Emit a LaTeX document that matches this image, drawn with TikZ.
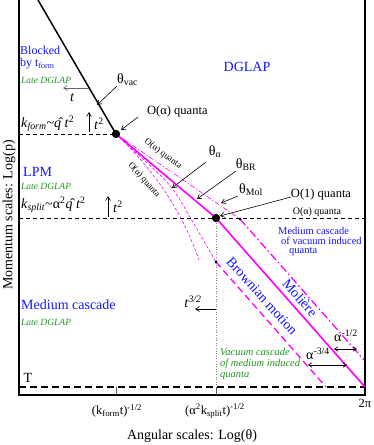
\documentclass[tikz,border=0pt]{standalone}
\usepackage{fontspec}
\setmainfont{Liberation Serif}
\usetikzlibrary{arrows.meta}
\definecolor{mag}{RGB}{255,0,255}
\definecolor{lblue}{RGB}{20,20,255}
\definecolor{lgreen}{RGB}{30,150,30}
\begin{document}
\begin{tikzpicture}[x=1pt,y=-1pt,
  axis/.style={line width=1.6pt},
  arr/.style={-{Straight Barb[length=4pt,width=5pt]}, line width=0.6pt},
  darr/.style={{Straight Barb[length=3.5pt,width=4.5pt]}-{Straight Barb[length=3.5pt,width=4.5pt]}, line width=0.6pt},
  big/.style={inner sep=0pt, font=\fontsize{14}{16}\selectfont},
  mid/.style={inner sep=0pt, font=\fontsize{12.5}{14}\selectfont},
  sml/.style={inner sep=0pt, font=\fontsize{10}{12}\selectfont},
  bluebig/.style={big, text=lblue},
  bluesm/.style={inner sep=0pt, font=\fontsize{10.5}{12}\selectfont, text=lblue},
  greensm/.style={inner sep=0pt, font=\fontsize{10.5}{12}\selectfont\itshape, text=lgreen},
  late/.style={inner sep=0pt, font=\fontsize{9.5}{11}\selectfont\itshape, text=lgreen},
  bigdot/.style={circle, fill=black, inner sep=0pt, minimum size=8pt},
  smalldot/.style={circle, fill=black, inner sep=0pt, minimum size=2.6pt},
  kline/.style={dashed, line width=0.6pt, dash pattern=on 4pt off 3pt},
  magsolid/.style={mag, line width=1.6pt},
  magthin/.style={mag, line width=0.6pt, dash pattern=on 3pt off 2pt},
  magthindd/.style={mag, line width=0.6pt, dash pattern=on 5pt off 2pt on 1pt off 2pt},
  magdash/.style={mag, line width=1.3pt, dash pattern=on 7pt off 4pt},
  magdd/.style={mag, line width=1.3pt, dash pattern=on 8pt off 3pt on 1.5pt off 3pt}
]
\useasboundingbox (0,0) rectangle (374,445);

% key points
\coordinate (top) at (38,0);
\node[bigdot] (d1) at (116,134) {};
\node[bigdot] (d2) at (216,218) {};
\node[smalldot] (s1) at (240,219) {};
\node[smalldot] (s2) at (216,262) {};
\coordinate (solidEnd) at (365,387);
\coordinate (ddEnd) at (364,360);
\coordinate (dashEnd) at (326,387);
\coordinate (kink) at (172,186);
\coordinate (bEnd) at (199,260);

% axes
\coordinate (tl) at (19,0);
\coordinate (bl) at (19,395);
\coordinate (br) at (365,395);
\coordinate (tr) at (365,0);
\draw[axis] (tl) -- (bl) -- (br) -- (tr);

% horizontal scale lines
\coordinate (kfL) at (19,134);
\coordinate (ksL) at (19,218);
\coordinate (ksR) at (365,218);
\coordinate (TL) at (19,387);
\coordinate (TR) at (365,387);
\draw[kline] (kfL) -- (d1.center);
\draw[kline] (ksL) -- (ksR);
\draw[line width=1.5pt, dash pattern=on 7pt off 4pt] (TL) -- (TR);

% ticks and dotted vertical
\coordinate (t1a) at (116,387);
\coordinate (t1b) at (116,395);
\coordinate (t2a) at (216,387);
\coordinate (t2b) at (216,395);
\draw[line width=0.6pt, gray!70!black] (t1a) -- (t1b);
\draw[line width=0.6pt, gray!70!black] (t2a) -- (t2b);
\draw[gray, line width=0.6pt, dotted] (d2.center) -- (t2a);

% vacuum line
\draw[line width=1.5pt] (top) -- (d1.center);

% magenta lines
\draw[magthindd] (d1.center) -- (s1.center);
\draw[magthin, rounded corners=16pt] (d1.center) -- (kink) -- (s2.center);
\draw[magthin] (d1.center) .. controls (145,162) and (178,200) .. (bEnd);
\draw[magdd] (s1.center) -- (ddEnd);
\draw[magdash] (s2.center) -- (dashEnd);
\draw[magsolid] (d1.center) -- (d2.center) -- (solidEnd);
\node[bigdot] at (d1) {};
\node[bigdot] at (d2) {};
\node[smalldot] at (s1) {};
\node[smalldot] at (s2) {};

% left region labels
\node[inner sep=0pt, font=\fontsize{12}{14}\selectfont, text=lblue, anchor=west] (blk) at (20,50) {Blocked};
\node[inner sep=0pt, font=\fontsize{12}{14}\selectfont, text=lblue, anchor=west] (byt) at (20,64) {by t\textsubscript{form}};
\node[late, anchor=west] (ld1) at (21,80) {Late DGLAP};
\node[bluebig] (dglap) at (247,67) {DGLAP};

% theta_vac and t arrow
\node[big, anchor=west] (thv) at (117,80) {θ\textsubscript{vac}};
\coordinate (thvS) at (117,86);
\coordinate (thvT) at (97,105);
\draw[arr] (thvS) -- (thvT);
\coordinate (taS) at (89,88);
\coordinate (taT) at (63,88);
\draw[arr, gray!80!black] (taS) -- (taT);
\node[big, font=\fontsize{14}{16}\selectfont\itshape] (tlab) at (72,98) {t};

% k_form
\node[big, anchor=west] (kform) at (21,124) {\textit{k}\textsubscript{\textit{form}}\textasciitilde\^{\textit{q}} \textit{t}\textsuperscript{2}};
\coordinate (u1a) at (89,132);
\coordinate (u1b) at (89,112);
\draw[arr] (u1a) -- (u1b);
\node[big] (t2a1) at (99,124) {\textit{t}\textsuperscript{2}};

% O(alpha) quanta top
\node[mid, anchor=west] (oaq) at (147,111) {O(α) quanta};
\coordinate (oaS) at (138,117);
\coordinate (oaT) at (121,130);
\draw[arr] (oaS) -- (oaT);

% rotated small labels
\node[sml, font=\fontsize{9}{10}\selectfont, rotate=-36] (oq1) at (163,154) {O(α) quanta};
\node[sml, font=\fontsize{9}{10}\selectfont, rotate=-49] (oq2) at (144,180) {O(α) quanta};

% LPM
\node[bluebig, anchor=west] (lpm) at (23,172) {LPM};
\node[late, anchor=west] (ld2) at (21,186) {Late DGLAP};
\node[big, anchor=west] (ksplit) at (21,205) {\textit{k}\textsubscript{\textit{split}}\textasciitilde α\textsuperscript{2}\^{\textit{q}} \textit{t}\textsuperscript{2}};
\coordinate (u2a) at (108,217);
\coordinate (u2b) at (108,196);
\draw[arr] (u2a) -- (u2b);
\node[big] (t2b1) at (118,207) {\textit{t}\textsuperscript{2}};

% axis titles
\node[big, rotate=90] (ylab) at (9,215) {Momentum scales: Log(p)};
\node[big] (xlab) at (192,436) {Angular scales: Log(θ)};

% theta labels
\node[big] (tha) at (215,152) {θ\textsubscript{α}};
\coordinate (thaS) at (206,162);
\coordinate (thaT) at (172,188);
\draw[arr] (thaS) -- (thaT);
\node[big] (thbr) at (246,165) {θ\textsubscript{BR}};
\coordinate (thbS) at (236,171);
\coordinate (thbT) at (197,199);
\draw[arr] (thbS) -- (thbT);
\node[big] (thmol) at (251,190) {θ\textsubscript{Mol}};
\coordinate (thmS) at (238,196);
\coordinate (thmT) at (221,203);
\draw[arr] (thmS) -- (thmT);

% O(1) quanta
\node[mid] (o1q) at (321,194) {O(1) quanta};
\coordinate (o1S) at (291,197);
\coordinate (o1T) at (220,216);
\draw[arr] (o1S) -- (o1T);
\node[sml] (oaq2) at (317,212) {O(α) quanta};

% medium cascade of vacuum induced quanta
\node[bluesm, anchor=west] (mc1) at (278,231) {Medium cascade};
\node[bluesm, anchor=west] (mc2) at (281,241) {of vacuum induced};
\node[bluesm, anchor=west] (mc3) at (289,252) {quanta};

% rotated blue labels
\node[bluebig, rotate=-48] (brown) at (262,296) {Brownian motion};
\node[bluebig, rotate=-48] (moli) at (300,298) {Molière};

% medium cascade left
\node[bluebig, anchor=west] (mcl) at (21,305) {Medium cascade};
\node[late, anchor=west] (ld3) at (21,322) {Late DGLAP};

% t^{3/2}
\node[big] (t32) at (193,302) {\textit{t}\textsuperscript{\textit{3/2}}};
\coordinate (t32S) at (216,309);
\coordinate (t32T) at (195,309);
\draw[arr] (t32S) -- (t32T);

% vacuum cascade of medium induced quanta
\node[greensm, anchor=west] (vc1) at (220,352) {Vacuum cascade};
\node[greensm, anchor=west] (vc2) at (220,364) {of medium induced};
\node[greensm, anchor=west] (vc3) at (220,376) {quanta};

% alpha widths
\node[big] (am12) at (346,336) {α\textsuperscript{-1/2}};
\coordinate (a1L) at (334,349);
\coordinate (a1R) at (357,349);
\draw[darr] (a1L) -- (a1R);
\node[big] (am34) at (318,354) {α\textsuperscript{-3/4}};
\coordinate (a2L) at (308,365);
\coordinate (a2R) at (347,365);
\draw[darr] (a2L) -- (a2R);

% T and bottom labels
\node[big] (Tl) at (28,378) {T};
\node[mid] (xk1) at (117,411) {(k\textsubscript{form}t)\textsuperscript{-1/2}};
\node[mid] (xk2) at (215,411) {(α\textsuperscript{2}k\textsubscript{split}t)\textsuperscript{-1/2}};
\node[mid] (x2pi) at (365,403) {2π};
\end{tikzpicture}
\end{document}
